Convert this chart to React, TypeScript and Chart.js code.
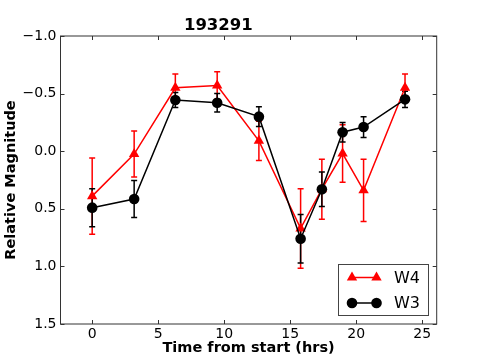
import React, { useEffect, useRef } from "react";
import { Chart, registerables } from "chart.js";

Chart.register(...registerables);

const titleText = "193291";
const xLabel = "Time from start (hrs)";
const yLabel = "Relative Magnitude";
const time = [0, 3.18, 6.3, 9.47, 12.63, 15.79, 17.4, 18.97, 20.56, 23.7];
const w4 = [0.39, 0.025, -0.55, -0.57, -0.09, 0.67, 0.33, 0.02, 0.34, -0.55];
const w4Err = [0.33, 0.2, 0.12, 0.12, 0.17, 0.345, 0.26, 0.25, 0.27, 0.12];
const w3 = [0.49, 0.415, -0.445, -0.42, -0.3, 0.76, 0.33, -0.165, -0.21, -0.45];
const w3Err = [0.165, 0.16, 0.065, 0.08, 0.085, 0.21, 0.15, 0.085, 0.09, 0.07];
const xTicks = [0, 5, 10, 15, 20, 25];
const yTicks = [-1.0, -0.5, 0.0, 0.5, 1.0, 1.5];
const legendLabels = ["W4", "W3"];

const RED = "#ff0000";
const BLACK = "#000000";
const FONT = "'DejaVu Sans', sans-serif";

const fmtY = (v: number) => (v < 0 ? "\u2212" : "") + Math.abs(v).toFixed(1);

const errorBarPlugin = {
  id: "errorBars",
  beforeDatasetsDraw(chart: any) {
    const { ctx } = chart;
    const xs = chart.scales.x;
    const ys = chart.scales.y;
    const sets = [
      { vals: w4, errs: w4Err, color: RED },
      { vals: w3, errs: w3Err, color: BLACK },
    ];
    ctx.save();
    ctx.lineWidth = 1.5;
    for (const s of sets) {
      ctx.strokeStyle = s.color;
      for (let i = 0; i < time.length; i++) {
        const px = xs.getPixelForValue(time[i]);
        const y1 = ys.getPixelForValue(s.vals[i] - s.errs[i]);
        const y2 = ys.getPixelForValue(s.vals[i] + s.errs[i]);
        ctx.beginPath();
        ctx.moveTo(px, y1);
        ctx.lineTo(px, y2);
        ctx.moveTo(px - 3, y1);
        ctx.lineTo(px + 3, y1);
        ctx.moveTo(px - 3, y2);
        ctx.lineTo(px + 3, y2);
        ctx.stroke();
      }
    }
    ctx.restore();
  },
};

const framePlugin = {
  id: "frame",
  afterDraw(chart: any) {
    const { ctx, chartArea: a } = chart;
    const xs = chart.scales.x;
    const ys = chart.scales.y;
    ctx.save();
    ctx.strokeStyle = "#333333";
    ctx.lineWidth = 1;
    ctx.strokeRect(a.left, a.top, a.right - a.left, a.bottom - a.top);
    ctx.beginPath();
    for (const v of xTicks) {
      const px = Math.round(xs.getPixelForValue(v)) + 0.5;
      ctx.moveTo(px, a.bottom);
      ctx.lineTo(px, a.bottom - 4);
      ctx.moveTo(px, a.top);
      ctx.lineTo(px, a.top + 4);
    }
    for (const v of yTicks) {
      const py = Math.round(ys.getPixelForValue(v)) + 0.5;
      ctx.moveTo(a.left, py);
      ctx.lineTo(a.left + 4, py);
      ctx.moveTo(a.right, py);
      ctx.lineTo(a.right - 4, py);
    }
    ctx.stroke();

    // legend
    const bx = 338.5, by = 264.5, bw = 90, bh = 51;
    ctx.fillStyle = "#ffffff";
    ctx.fillRect(bx, by, bw, bh);
    ctx.strokeStyle = "#444444";
    ctx.strokeRect(bx, by, bw, bh);
    const rows = [
      { label: legendLabels[0], color: RED, style: "triangle", r: 6, y: 277.5 },
      { label: legendLabels[1], color: BLACK, style: "circle", r: 5.3, y: 303 },
    ];
    for (const row of rows) {
      ctx.strokeStyle = row.color;
      ctx.lineWidth = 1.5;
      ctx.beginPath();
      ctx.moveTo(352, row.y);
      ctx.lineTo(376.5, row.y);
      ctx.stroke();
      for (const mx of [352, 376.5]) {
        ctx.fillStyle = row.color;
        ctx.beginPath();
        if (row.style === "circle") {
          ctx.arc(mx, row.y, row.r, 0, Math.PI * 2);
        } else {
          const r = row.r;
          ctx.moveTo(mx, row.y - r);
          ctx.lineTo(mx + r * Math.sin(Math.PI * 2 / 3), row.y + r / 2);
          ctx.lineTo(mx - r * Math.sin(Math.PI * 2 / 3), row.y + r / 2);
          ctx.closePath();
        }
        ctx.fill();
      }
      ctx.fillStyle = "#000000";
      ctx.font = `16px ${FONT}`;
      ctx.textAlign = "left";
      ctx.textBaseline = "middle";
      ctx.fillText(row.label, 394, row.y + 1);
    }
    ctx.restore();
  },
};

export default function App() {
  const ref = useRef<HTMLCanvasElement | null>(null);
  useEffect(() => {
    if (!ref.current) return;
    const chart = new Chart(ref.current, {
      type: "line",
      data: {
        datasets: [
          {
            label: legendLabels[1],
            data: time.map((t, i) => ({ x: t, y: w3[i] })),
            borderColor: BLACK,
            backgroundColor: BLACK,
            borderWidth: 1.5,
            pointStyle: "circle",
            pointRadius: 5.3,
            pointBorderWidth: 0,
            pointBackgroundColor: BLACK,
            tension: 0,
          },
          {
            label: legendLabels[0],
            data: time.map((t, i) => ({ x: t, y: w4[i] })),
            borderColor: RED,
            backgroundColor: RED,
            borderWidth: 1.5,
            pointStyle: "triangle",
            pointRadius: 6,
            pointBorderWidth: 0,
            pointBackgroundColor: RED,
            tension: 0,
          },
        ],
      },
      options: {
        animation: false,
        responsive: true,
        maintainAspectRatio: false,
        layout: { padding: { top: 0, right: 48.3, left: 0, bottom: 0 } },
        plugins: {
          legend: { display: false },
          tooltip: { enabled: false },
          title: {
            display: true,
            text: titleText,
            color: "#000000",
            font: { family: FONT, size: 16.5, weight: "bold" },
            padding: { top: 16.2, bottom: 0 },
          },
        },
        scales: {
          x: {
            type: "linear",
            min: -2.4,
            max: 26.1,
            afterBuildTicks: (s: any) => {
              s.ticks = xTicks.map((v) => ({ value: v }));
            },
            afterFit: (s: any) => {
              s.height = 36;
            },
            grid: { display: false, drawTicks: false },
            border: { display: false },
            ticks: {
              color: "#000000",
              font: { family: FONT, size: 14 },
              padding: 2,
              maxRotation: 0,
            },
            title: {
              display: true,
              text: xLabel,
              color: "#000000",
              font: { family: FONT, size: 14.5, weight: "bold" },
              padding: { top: 0, bottom: 3 },
            },
          },
          y: {
            type: "linear",
            reverse: true,
            min: -1.0,
            max: 1.5,
            afterBuildTicks: (s: any) => {
              s.ticks = yTicks.map((v) => ({ value: v }));
            },
            afterFit: (s: any) => {
              s.width = 60.5;
            },
            grid: { display: false, drawTicks: false },
            border: { display: false },
            ticks: {
              color: "#000000",
              font: { family: FONT, size: 14 },
              padding: 4,
              callback: (v: any) => fmtY(Number(v)),
            },
            title: {
              display: true,
              text: yLabel,
              color: "#000000",
              font: { family: FONT, size: 14.5, weight: "bold" },
              padding: { top: 3, bottom: 0 },
            },
          },
        },
      },
      plugins: [errorBarPlugin, framePlugin],
    } as any);
    return () => chart.destroy();
  }, []);
  return (
    <div style={{ position: "fixed", left: 0, top: 0, width: 485, height: 360, background: "#ffffff" }}>
      <canvas ref={ref} />
    </div>
  );
}
